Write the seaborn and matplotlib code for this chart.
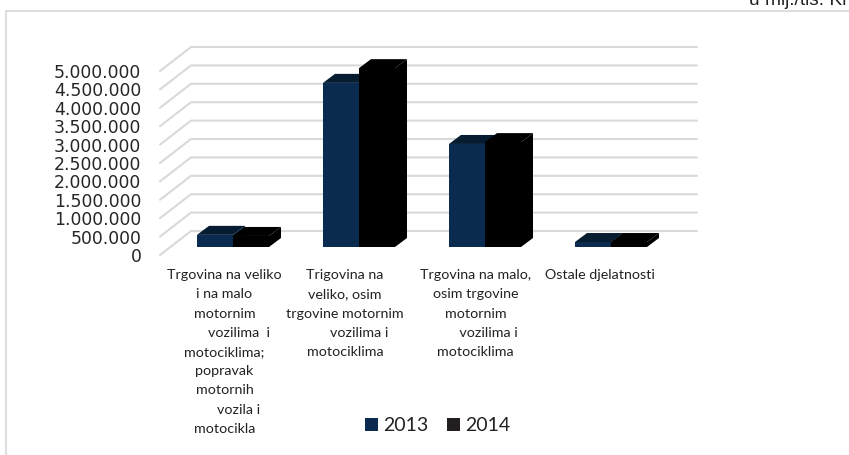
"""Grouped pseudo-3D bars of trade turnover by activity, 2013 and 2014."""
import matplotlib
matplotlib.use("Agg")
from matplotlib import pyplot as plt
from matplotlib.patches import Polygon
from matplotlib.transforms import ScaledTranslation
import pandas as pd
import seaborn as sns

CATEGORIES = [
    "Trgovina na veliko\ni na malo\nmotornim\n        vozilima  i\nmotociklima;\npopravak\nmotornih\n        vozila i\nmotocikla",
    "Trigovina na\nveliko, osim\ntrgovine motornim\n        vozilima i\nmotociklima",
    "Trgovina na malo,\nosim trgovine\nmotornim\n       vozilima i\nmotociklima",
    "Ostale djelatnosti",
]
VALUES_2013 = [330000, 4460000, 2800000, 135000]
VALUES_2014 = [300000, 4860000, 2850000, 135000]
YEARS = ["2013", "2014"]
Y_TICKS = [0, 500000, 1000000, 1500000, 2000000, 2500000, 3000000, 3500000, 4000000, 4500000, 5000000]
Y_TICK_LABELS = ["0", "500.000", "1.000.000", "1.500.000", "2.000.000", "2.500.000",
                 "3.000.000", "3.500.000", "4.000.000", "4.500.000", "5.000.000"]
UNIT_TEXT = "u mlj./tis. Kn"

W, H = 849, 455
PX_PER_UNIT = 184 / 5e6
BLUE, BLUE_TOP, BLACK = "#0a2a4f", "#051c31", "#000000"
GRID = "#d9d9d9"
LABEL_SHIFT = [-8.5, -14, -9.5, -11]


def px_axes(fig, left, right, top, bottom):
    return fig.add_axes([left / W, 1 - bottom / H, (right - left) / W, (bottom - top) / H])


data = pd.DataFrame({
    "category": CATEGORIES * 2,
    "value": VALUES_2013 + VALUES_2014,
    "year": [YEARS[0]] * 4 + [YEARS[1]] * 4,
})

sns.set_style("white")
fig = plt.figure(figsize=(W / 100, H / 100), dpi=100)

# outer chart frame, cut by the image edge at the top right
fig.add_artist(plt.Line2D([6 / W, 6 / W, 1], [0, 1 - 11 / H, 1 - 11 / H], color="#dedede", lw=1.5))
fig.text(749 / W, 1 - 5 / H, UNIT_TEXT, fontsize=13.8, color="#222222", family="Liberation Sans", va="baseline")

# wall: front plane carries the tick labels, lines run back by a fixed depth
wall = px_axes(fig, 160, 697, 71, 255)
wall.set_xlim(0, 1)
wall.set_ylim(0, 5e6)
sns.despine(ax=wall, left=True, bottom=True)
wall.set_xticks([])
wall.set_yticks(Y_TICKS)
wall.set_yticklabels(Y_TICK_LABELS, fontsize=12.4, color="#262626", family="DejaVu Sans")
wall.tick_params(axis="y", length=0, pad=13.5)
depth_x, depth_y = 31 / 537, 24 / PX_PER_UNIT
for v in Y_TICKS:
    wall.plot([0, depth_x, 1], [v, v + depth_y, v + depth_y], color=GRID, lw=1.5, clip_on=False)

# bars stand on a floor a little behind the front plane
ax = px_axes(fig, 170, 674, 47, 247)
ax.patch.set_alpha(0)
sns.barplot(data=data, x="category", y="value", hue="year", hue_order=YEARS,
            palette=[BLUE, BLACK], width=72 / 126, gap=0, saturation=1, linewidth=0, ax=ax, zorder=3)
ax.set_xlim(-0.5, 3.5)
ax.set_ylim(0, 200 / PX_PER_UNIT)
ax.set_xlabel("")
ax.set_ylabel("")
ax.set_yticks([])
ax.tick_params(axis="x", length=0, pad=16)
sns.despine(ax=ax, left=True, bottom=True)
ax.set_xticks(range(4))
ax.set_xticklabels(CATEGORIES, fontsize=10.3, color="#222222", family="Lato", linespacing=1.72, va="top")
for label, shift in zip(ax.get_xticklabels(), LABEL_SHIFT):
    label.set_transform(label.get_transform() + ScaledTranslation(shift / 100, 0, fig.dpi_scale_trans))

# top and side faces, worked out from the drawn bars
dx, dy = 12 / 126, 9 / PX_PER_UNIT
for i, (container, top_color, side_color) in enumerate(zip(ax.containers, [BLUE_TOP, BLACK], [BLUE_TOP, BLACK])):
    for bar in container:
        bar.set_zorder(3 + i)
        x0, x1, h = bar.get_x(), bar.get_x() + bar.get_width(), bar.get_height()
        ax.add_patch(Polygon([(x0, h), (x0 + dx, h + dy), (x1 + dx, h + dy), (x1, h)],
                             facecolor=top_color, edgecolor="none", zorder=3 + i, clip_on=False))
        ax.add_patch(Polygon([(x1, 0), (x1 + dx, dy), (x1 + dx, h + dy), (x1, h)],
                             facecolor=side_color, edgecolor="none", zorder=3 + i, clip_on=False))

handles, labels = ax.get_legend_handles_labels()
ax.legend_.remove()
handles[1].set_facecolor("#231f20")
fig.legend(handles, labels, ncol=2, frameon=False, loc="center left",
           bbox_to_anchor=(365 / W, 1 - 425.5 / H), prop={"family": "Lato", "size": 14},
           handlelength=0.67, handleheight=0.67, handletextpad=0.27, columnspacing=0.95,
           labelcolor="#222222", borderpad=0, borderaxespad=0)

fig.savefig("out.png", dpi=100)
